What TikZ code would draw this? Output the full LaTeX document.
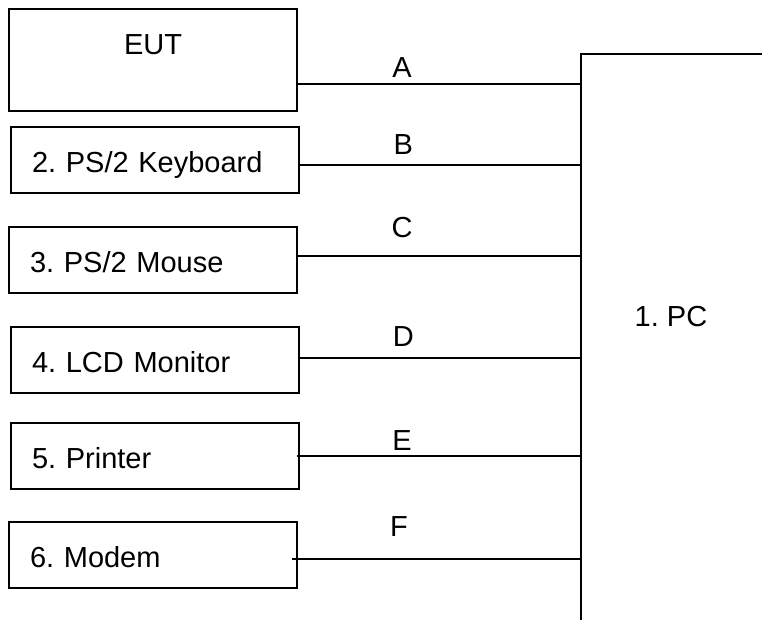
\documentclass[tikz,border=0pt]{standalone}
\usepackage{fontspec}
\setmainfont{Liberation Sans}
\usetikzlibrary{positioning}

\begin{document}
\frenchspacing
\begin{tikzpicture}[
  font=\fontsize{29}{34}\selectfont,
  box/.style={draw, line width=1.3pt, outer sep=0pt, minimum width=288pt, minimum height=66pt, text width=246pt, inner xsep=21pt, inner ysep=0pt, text height=25pt, text depth=0pt, align=left},
  cable/.style={line width=1.4pt},
  pcline/.style={line width=2pt},
  lbl/.style={above, pos=0.37, inner sep=9pt}
]
\useasboundingbox (0,0) rectangle (762pt,-620pt);
\node[box, line width=2pt, minimum height=102pt, anchor=north west,
  label={[anchor=north, yshift=-22pt]north:EUT}] (eut) at (9pt,-9pt) {};
\node[box, below=16pt of eut, xshift=2pt] (kb) {2. PS/2 Keyboard};
\node[box, below=34pt of kb, xshift=-2pt] (ms) {3. PS/2 Mouse};
\node[box, below=34pt of ms, xshift=2pt] (lcd) {4. LCD Monitor};
\node[box, below=30pt of lcd] (pr) {5. Printer};
\node[box, below=33pt of pr, xshift=-2pt] (mo) {6. Modem};
% PC, open at right and bottom
\coordinate (pct) at (581pt,-54pt);
\coordinate (pcb) at (581pt,-620pt);
\coordinate (pcr) at (762pt,-54pt);
\draw[pcline] (pcb) -- (pct) -- (pcr);
\node (pc) at (671pt,-317pt) {1. PC};
% cables
\draw[cable] ([yshift=-24pt]eut.east) -- ([yshift=-24pt]eut.east -| pct) node[lbl, yshift=-3pt] {A};
\draw[cable] ([yshift=-5pt]kb.east) -- ([yshift=-5pt]kb.east -| pct) node[lbl, yshift=1pt] {B};
\draw[cable] ([yshift=4pt]ms.east) -- ([yshift=4pt]ms.east -| pct) node[lbl, yshift=9pt] {C};
\draw[cable] ([yshift=2pt]lcd.east) -- ([yshift=2pt]lcd.east -| pct) node[lbl, yshift=1.5pt] {D};
\draw[cable] ([xshift=-2pt]pr.east) -- (pr.east -| pct) node[lbl, yshift=-4.5pt] {E};
\draw[cable] ([xshift=-5pt,yshift=-4pt]mo.east) -- ([yshift=-4pt]mo.east -| pct) node[lbl, yshift=12.5pt] {F};
\end{tikzpicture}
\end{document}
